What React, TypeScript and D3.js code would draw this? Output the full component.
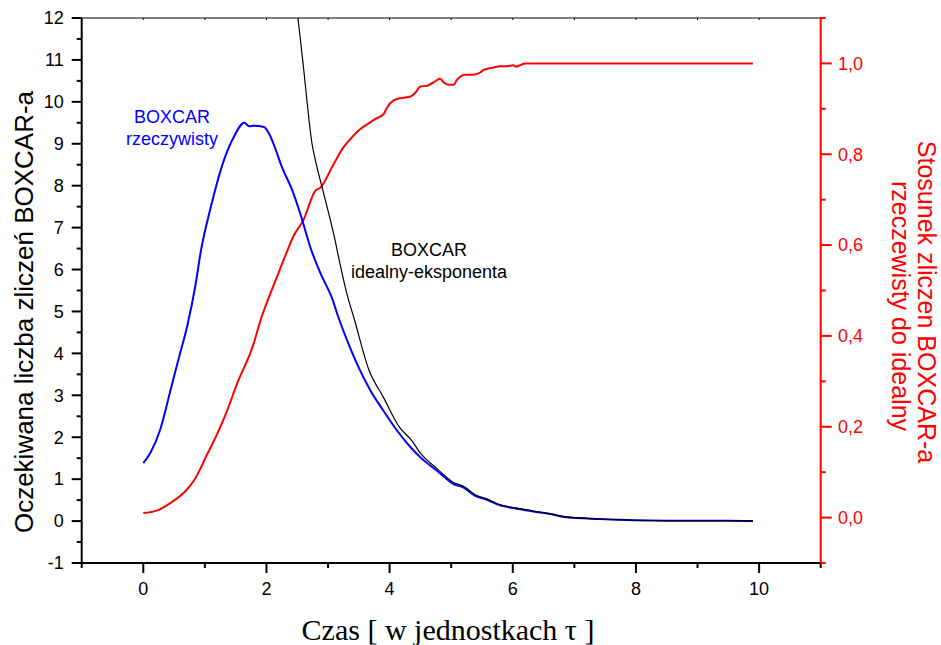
import React from "react";
import * as d3 from "d3";

// ---- data ----
const blueX = [0, 0.12, 0.27, 0.44, 0.58, 0.71, 0.85, 0.93, 1.09, 1.31, 1.47, 1.64, 1.72, 1.79, 1.96, 2.05, 2.12, 2.25, 2.42, 2.55, 2.72, 2.88, 3.07, 3.15, 3.31, 3.47, 3.69, 3.90, 4.12, 4.34, 4.50, 4.77, 5.04, 5.20, 5.39, 5.58, 5.77, 6.01, 6.33, 6.61, 6.88, 7.42, 7.96, 8.5, 9.0, 9.5, 9.9];
const blueY = [1.38, 1.64, 2.16, 3.11, 3.91, 4.63, 5.65, 6.40, 7.45, 8.61, 9.16, 9.50, 9.42, 9.43, 9.40, 9.22, 8.98, 8.45, 7.89, 7.33, 6.50, 5.90, 5.30, 4.94, 4.31, 3.75, 3.11, 2.63, 2.16, 1.76, 1.52, 1.20, 0.88, 0.80, 0.60, 0.51, 0.39, 0.31, 0.23, 0.17, 0.09, 0.05, 0.02, 0.01, 0.01, 0.01, 0.0];

const blackX = [2.45, 2.51, 2.60, 2.74, 2.82, 2.93, 3.09, 3.20, 3.31, 3.42, 3.66, 3.90, 4.15, 4.36, 4.50, 4.77, 5.04, 5.20, 5.39, 5.58, 5.77, 6.01, 6.33, 6.61, 6.88, 7.42, 7.96, 8.5, 9.0, 9.5, 9.9];
const blackY = [12.6, 12.0, 10.84, 9.0, 8.45, 7.81, 6.86, 6.10, 5.40, 4.85, 3.62, 2.95, 2.26, 1.92, 1.62, 1.25, 0.92, 0.83, 0.63, 0.53, 0.40, 0.32, 0.24, 0.17, 0.10, 0.05, 0.02, 0.01, 0.01, 0.01, 0.0];

const redX = [0, 0.23, 0.44, 0.69, 0.82, 1.04, 1.20, 1.36, 1.52, 1.79, 1.90, 2.06, 2.20, 2.34, 2.44, 2.60, 2.79, 2.88, 3.09, 3.25, 3.36, 3.52, 3.66, 3.77, 3.90, 3.96, 4.06, 4.20, 4.34, 4.42, 4.50, 4.61, 4.71, 4.82, 4.88, 4.96, 5.04, 5.09, 5.23, 5.36, 5.47, 5.52, 5.69, 5.79, 5.90, 6.01, 6.05, 6.12, 6.20, 9.9];
const redY = [0.010, 0.016, 0.032, 0.059, 0.081, 0.14, 0.184, 0.235, 0.294, 0.382, 0.433, 0.492, 0.540, 0.588, 0.620, 0.655, 0.719, 0.727, 0.778, 0.815, 0.833, 0.855, 0.868, 0.878, 0.888, 0.903, 0.918, 0.924, 0.927, 0.936, 0.949, 0.951, 0.958, 0.966, 0.958, 0.953, 0.953, 0.963, 0.975, 0.975, 0.980, 0.985, 0.991, 0.994, 0.994, 0.996, 0.993, 0.996, 1.0, 1.0];

const xMajorTicks = [0, 2, 4, 6, 8, 10];
const xMinorTicks = [-1, 1, 3, 5, 7, 9, 11];
const yLeftTicks = [-1, 0, 1, 2, 3, 4, 5, 6, 7, 8, 9, 10, 11, 12];
const yRightMajor = [0, 0.2, 0.4, 0.6, 0.8, 1.0];
const yRightMinor = [-0.1, 0.1, 0.3, 0.5, 0.7, 0.9, 1.1];

const W = 941, H = 645;
const L = 81.7, R = 820.7, T = 18, B = 563;
const FONT = "'Liberation Sans', Arial, Helvetica, sans-serif";

export default function App() {
  const x = d3.scaleLinear().domain([-1, 11]).range([L, R]);
  const yL = d3.scaleLinear().domain([-1, 12]).range([B, T]);
  const yR = d3.scaleLinear().domain([-0.1, 1.1]).range([B, T]);

  const lineL = d3.line<[number, number]>().x(d => x(d[0])).y(d => yL(d[1])).curve(d3.curveMonotoneX);
  const lineR = d3.line<[number, number]>().x(d => x(d[0])).y(d => yR(d[1])).curve(d3.curveMonotoneX);

  const blue = lineL(blueX.map((v, i) => [v, blueY[i]] as [number, number]));
  const black = lineL(blackX.map((v, i) => [v, blackY[i]] as [number, number]));
  const red = lineR(redX.map((v, i) => [v, redY[i]] as [number, number]));

  const leftMinor = d3.range(-0.5, 12, 1);
  const topTicks = d3.range(-1, 12, 1);
  const fmtR = (v: number) => v.toFixed(1).replace(".", ",");

  return (
    <svg width={W} height={H} style={{ position: "absolute", left: 0, top: 0, background: "#fff" }} fontFamily={FONT}>
      <defs>
        <clipPath id="plot">
          <rect x={L} y={T} width={R - L} height={B - T} />
        </clipPath>
      </defs>

      {/* top border */}
      <line x1={L} x2={R} y1={T} y2={T} stroke="#000" strokeWidth={1} />
      {topTicks.map(t => (
        <line key={"tt" + t} x1={x(t)} x2={x(t)} y1={T} y2={T + 2} stroke="#000" strokeWidth={1} />
      ))}

      {/* curves */}
      <g clipPath="url(#plot)" fill="none">
        <path d={red!} stroke="#ff0000" strokeWidth={2} strokeLinejoin="round" />
        <path d={blue!} stroke="#0000ff" strokeWidth={2} strokeLinejoin="round" />
        <path d={black!} stroke="#000" strokeWidth={1.2} strokeLinejoin="round" />
      </g>

      {/* left axis */}
      <line x1={L} x2={L} y1={T} y2={B + 1} stroke="#000" strokeWidth={2} />
      {yLeftTicks.map(t => (
        <g key={"yl" + t}>
          <line x1={L - 10} x2={L} y1={yL(t)} y2={yL(t)} stroke="#000" strokeWidth={2} />
          <text x={L - 18} y={yL(t)} dy="0.35em" textAnchor="end" fontSize={18} fill="#000">{t}</text>
        </g>
      ))}
      {leftMinor.map(t => (
        <line key={"ylm" + t} x1={L - 5} x2={L} y1={yL(t)} y2={yL(t)} stroke="#000" strokeWidth={2} />
      ))}

      {/* bottom axis */}
      <line x1={L - 1} x2={R} y1={B} y2={B} stroke="#000" strokeWidth={2} />
      {xMajorTicks.map(t => (
        <g key={"xm" + t}>
          <line x1={x(t)} x2={x(t)} y1={B} y2={B + 10} stroke="#000" strokeWidth={2} />
          <text x={x(t)} y={595} textAnchor="middle" fontSize={18} fill="#000">{t}</text>
        </g>
      ))}
      {xMinorTicks.map(t => (
        <line key={"xn" + t} x1={x(t)} x2={x(t)} y1={B} y2={B + 5} stroke="#000" strokeWidth={2} />
      ))}

      {/* right axis */}
      <line x1={R} x2={R} y1={T - 1} y2={B} stroke="#ff0000" strokeWidth={2} />
      {yRightMajor.map(t => (
        <g key={"yr" + t}>
          <line x1={R} x2={R + 11} y1={yR(t)} y2={yR(t)} stroke="#ff0000" strokeWidth={2} />
          <text x={838} y={yR(t)} dy="0.35em" textAnchor="start" fontSize={18} fill="#ff0000">{fmtR(t)}</text>
        </g>
      ))}
      {yRightMinor.map(t => (
        <line key={"yrm" + t} x1={R} x2={R + 5} y1={yR(t)} y2={yR(t)} stroke="#ff0000" strokeWidth={2} />
      ))}

      {/* axis titles */}
      <text transform="translate(33,312) rotate(-90)" textAnchor="middle" fontSize={26} fill="#000">
        Oczekiwana liczba zliczeń BOXCAR-a
      </text>
      <text transform="translate(918,302) rotate(90)" textAnchor="middle" fontSize={25} fill="#ff0000">
        Stosunek zliczen BOXCAR-a
      </text>
      <text transform="translate(892,306) rotate(90)" textAnchor="middle" fontSize={25} fill="#ff0000">
        rzeczewisty do idealny
      </text>
      <text x={448} y={640} textAnchor="middle" fontSize={30} fontFamily="'Liberation Serif', 'Times New Roman', serif" fill="#000">
        Czas [ w jednostkach τ ]
      </text>

      {/* annotations */}
      <text x={172} y={123} textAnchor="middle" fontSize={18} fill="#0000ff">BOXCAR</text>
      <text x={172} y={145} textAnchor="middle" fontSize={18} fill="#0000ff">rzeczywisty</text>
      <text x={429} y={256} textAnchor="middle" fontSize={18} fill="#000">BOXCAR</text>
      <text x={429} y={278} textAnchor="middle" fontSize={18} fill="#000">idealny-eksponenta</text>
    </svg>
  );
}
